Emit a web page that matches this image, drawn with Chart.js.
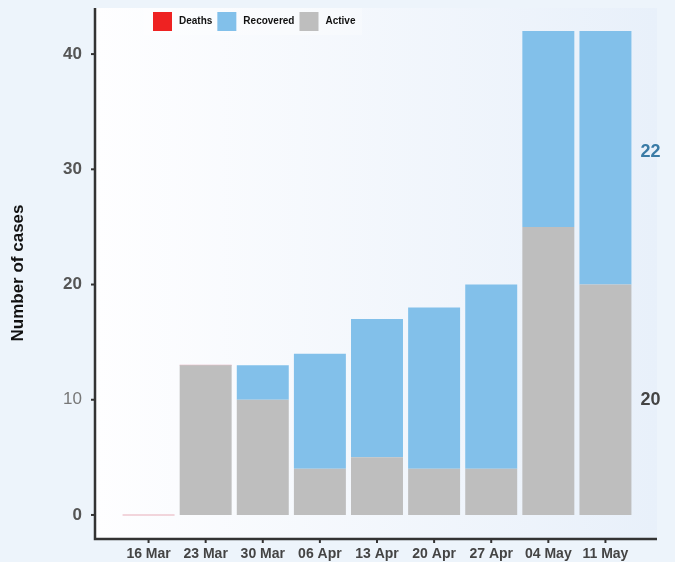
<!DOCTYPE html>
<html lang="en">
  <head>
    <meta charset="UTF-8" />
    <title>Number of cases</title>
    <style>
      html,
      body {
        margin: 0;
        padding: 0;
        background: #edf4fb;
      }
      .chart_frame {
        width: 675px;
        height: 562px;
      }
    </style>
  </head>
  <body>
    <div class="chart_frame">
      <canvas id="myChart" width="675" height="562"></canvas>
    </div>
    <script src="https://cdn.jsdelivr.net/npm/chart.js"></script>
    <script>
      const labels = ["16 Mar", "23 Mar", "30 Mar", "06 Apr", "13 Apr", "20 Apr", "27 Apr", "04 May", "11 May"];
      const active = [0, 13, 10, 4, 5, 4, 4, 25, 20];
      const recovered = [0, 0, 3, 10, 12, 14, 16, 17, 22];
      const deaths = [0, 0, null, null, null, null, null, null, null];
      const yTicks = [0, 10, 20, 30, 40];

      const FONT = "'Liberation Sans', Arial, sans-serif";

      // background, axis lines, legend and end labels
      const decor = {
        id: "decor",
        beforeDraw(chart) {
          const { ctx, chartArea: a } = chart;
          const left = a.left - 24;
          const right = a.right + 23;
          const g = ctx.createLinearGradient(left, 0, right, 0);
          g.addColorStop(0, "#fefeff");
          g.addColorStop(1, "#e8f0fa");
          ctx.save();
          ctx.fillStyle = g;
          ctx.fillRect(left, a.top, right - left, a.bottom - a.top);
          ctx.restore();
        },
        afterDraw(chart) {
          const { ctx, chartArea: a, scales } = chart;
          const axisX = a.left - 25;
          const right = a.right + 23;
          ctx.save();
          ctx.strokeStyle = "#333";
          ctx.lineWidth = 2.5;
          ctx.beginPath();
          ctx.moveTo(axisX, a.top);
          ctx.lineTo(axisX, a.bottom + 1);
          ctx.lineTo(right, a.bottom + 1);
          ctx.stroke();

          // tick marks
          ctx.lineWidth = 2;
          yTicks.forEach((v) => {
            const y = scales.y.getPixelForValue(v);
            ctx.beginPath();
            ctx.moveTo(axisX - 4, y);
            ctx.lineTo(axisX, y);
            ctx.stroke();
          });
          labels.forEach((_, i) => {
            const x = scales.x.getPixelForValue(i);
            ctx.beginPath();
            ctx.moveTo(x, a.bottom + 1);
            ctx.lineTo(x, a.bottom + 5);
            ctx.stroke();
          });

          // legend
          ctx.fillStyle = "rgba(255,255,255,0.3)";
          ctx.fillRect(a.left + 24, a.top, 218, 27);
          ctx.font = "bold 10px " + FONT;
          ctx.textBaseline = "middle";
          let x = a.left + 33;
          const ly = a.top + 13.5;
          [...chart.data.datasets].reverse().forEach((ds) => {
            ctx.fillStyle = ds.legendColor || ds.backgroundColor;
            ctx.fillRect(x, ly - 9.5, 19, 19);
            ctx.fillStyle = "#111";
            ctx.fillText(ds.label, x + 26, ly);
            x += 26 + ctx.measureText(ds.label).width + 5;
          });

          // end labels for the last week
          const last = labels.length - 1;
          const bar = chart.getDatasetMeta(0).data[last];
          const lx = bar.x + bar.width / 2 + 9;
          ctx.font = "bold 18px " + FONT;
          ctx.textAlign = "left";
          ctx.fillStyle = "#3a7ba6";
          ctx.fillText(String(recovered[last]), lx, scales.y.getPixelForValue(active[last] + recovered[last] / 2) - 6);
          ctx.fillStyle = "#444";
          ctx.fillText(String(active[last]), lx, scales.y.getPixelForValue(active[last] / 2));
          ctx.restore();
        },
      };

      const ctx = document.getElementById("myChart");
      new Chart(ctx, {
        type: "bar",
        data: {
          labels: labels,
          datasets: [
            { label: "Active", data: active, backgroundColor: "#bebebe" },
            { label: "Recovered", data: recovered, backgroundColor: "#82c0ea" },
            {
              label: "Deaths",
              data: deaths,
              backgroundColor: "rgba(215,110,130,0.55)",
              legendColor: "#ee2222",
              minBarLength: 1,
            },
          ],
        },
        options: {
          responsive: false,
          animation: false,
          devicePixelRatio: 1,
          categoryPercentage: 1,
          barPercentage: 0.91,
          layout: { padding: { left: 0, right: 41, top: 8, bottom: 0 } },
          plugins: { legend: { display: false }, tooltip: { enabled: false } },
          scales: {
            x: {
              stacked: true,
              offset: true,
              grid: { display: false, drawTicks: false },
              border: { display: false },
              ticks: {
                autoSkip: false,
                maxRotation: 0,
                padding: 8,
                color: "#444",
                font: { family: FONT, size: 14, weight: "bold" },
              },
              afterFit: (s) => {
                s.height = 24;
                s.paddingLeft = 0;
                s.paddingRight = 0;
              },
            },
            y: {
              stacked: true,
              min: -2,
              max: 44,
              afterBuildTicks: (s) => {
                s.ticks = yTicks.map((v) => ({ value: v }));
              },
              grid: { display: false, drawTicks: false },
              border: { display: false },
              ticks: {
                padding: 38,
                color: (c) => (c.tick && c.tick.value === 10 ? "#777" : "#555"),
                font: (c) => ({
                  family: FONT,
                  size: 17,
                  weight: c.tick && c.tick.value === 10 ? "normal" : "bold",
                }),
              },
              title: {
                display: true,
                text: "Number of cases",
                color: "#111",
                padding: { top: 8, bottom: 0 },
                font: { family: FONT, size: 17, weight: "bold" },
              },
              afterFit: (s) => {
                s.width = 120;
                s.paddingTop = 0;
                s.paddingBottom = 0;
              },
            },
          },
        },
        plugins: [decor],
      });
    </script>
  </body>
</html>
